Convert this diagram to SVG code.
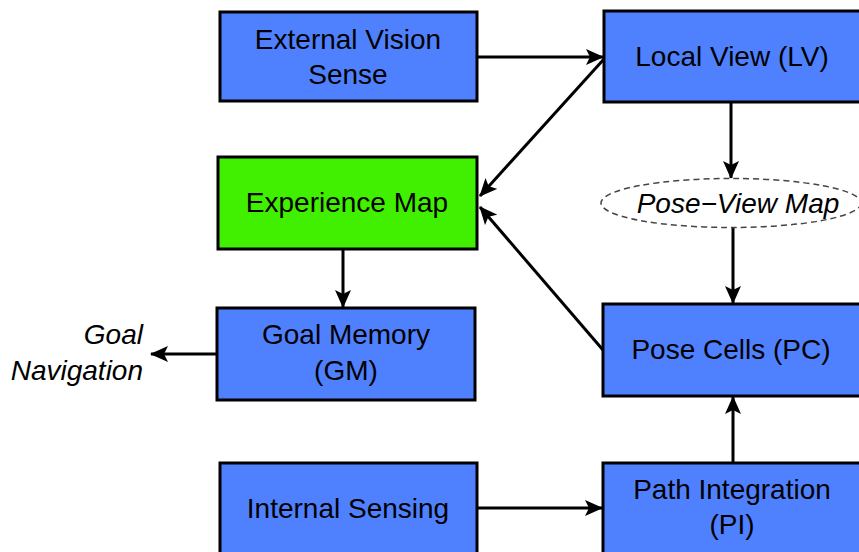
<svg xmlns="http://www.w3.org/2000/svg" width="859" height="552" viewBox="0 0 859 552">
<defs>
<marker id="ah" markerWidth="20" markerHeight="16" refX="17" refY="8" orient="auto" markerUnits="userSpaceOnUse">
<path d="M0,0 L18,8 L0,16 L4,8 Z" fill="#000"/>
</marker>
<style>
.box{fill:#4f81ff;stroke:#000;stroke-width:3}
.green{fill:#40f000;stroke:#000;stroke-width:3}
.t{font-family:"Liberation Sans",Arial,sans-serif;font-size:28px;fill:#000;text-anchor:middle}
.i{font-style:italic}
.e{text-anchor:end}
.c{stroke:#000;stroke-width:3;fill:none;marker-end:url(#ah)}
</style>
</defs>
<rect width="859" height="552" fill="#fff"/>
<g id="connectors">
<line class="c" x1="477" y1="57" x2="603" y2="57"/>
<line class="c" x1="604" y1="59" x2="480" y2="196"/>
<line class="c" x1="603" y1="350" x2="480" y2="207"/>
<line class="c" x1="343" y1="249" x2="343" y2="307"/>
<line class="c" x1="217" y1="354" x2="151" y2="354"/>
<line class="c" x1="731" y1="102" x2="731" y2="178"/>
<line class="c" x1="733" y1="228" x2="733" y2="303"/>
<line class="c" x1="733" y1="463" x2="733" y2="397"/>
<line class="c" x1="477" y1="508" x2="602" y2="508"/>
</g>
<g id="evs">
<rect class="box" x="220" y="12" width="257" height="89"/>
<text class="t" x="348" y="49">External Vision</text>
<text class="t" x="348" y="84">Sense</text>
</g>
<g id="lv">
<rect class="box" x="604" y="11" width="262" height="91"/>
<text class="t" x="732" y="66">Local View (LV)</text>
</g>
<g id="em">
<rect class="green" x="218" y="157" width="259" height="92"/>
<text class="t" x="347" y="212">Experience Map</text>
</g>
<g id="pvm">
<ellipse cx="731" cy="203" rx="130" ry="24.5" fill="#fff" stroke="#444" stroke-width="1.5" stroke-dasharray="6,4"/>
<text class="t i" x="738" y="213">Pose−View Map</text>
</g>
<g id="gm">
<rect class="box" x="217" y="308" width="258" height="92"/>
<text class="t" x="346" y="344">Goal Memory</text>
<text class="t" x="346" y="380">(GM)</text>
</g>
<g id="gn">
<text class="t i e" x="143" y="344">Goal</text>
<text class="t i e" x="143" y="380">Navigation</text>
</g>
<g id="pc">
<rect class="box" x="603" y="304" width="263" height="92"/>
<text class="t" x="731" y="359">Pose Cells (PC)</text>
</g>
<g id="is">
<rect class="box" x="220" y="463" width="257" height="100"/>
<text class="t" x="348" y="518">Internal Sensing</text>
</g>
<g id="pi">
<rect class="box" x="603" y="463" width="263" height="100"/>
<text class="t" x="732" y="499">Path Integration</text>
<text class="t" x="732" y="534">(PI)</text>
</g>
</svg>
